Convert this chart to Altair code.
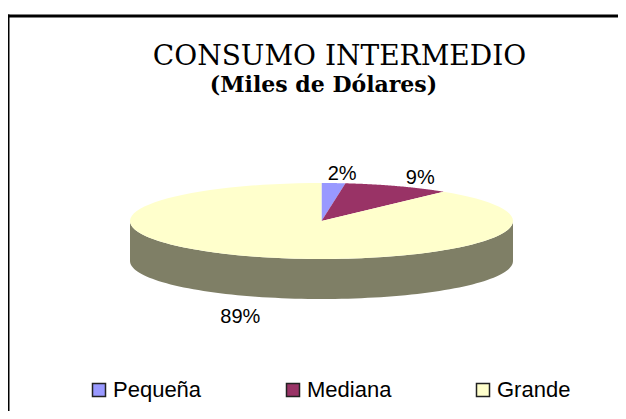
import altair as alt
import pandas as pd

categories = ["Pequeña", "Mediana", "Grande"]
values = [2, 9, 89]
top_colors = ["#9999FF", "#993366", "#FFFFCC"]
side_colors = ["#4C4C7F", "#4C1933", "#7F7F66"]
title_lines = ["CONSUMO INTERMEDIO", "(Miles de Dólares)"]

W, H = 610, 395
CX, CY, RX, RY, DEPTH = 313.5, 205, 191.5, 38, 40
N = 90

df = pd.DataFrame({"cat": categories, "val": values,
                   "idx": list(range(len(categories))), "side": side_colors})

xs = alt.X("px:Q", scale=alt.Scale(domain=[0, W], nice=False, zero=False), axis=None)
ys = alt.Y("py:Q", scale=alt.Scale(domain=[0, H], nice=False, zero=False, reverse=True), axis=None)

base = alt.Chart(df).transform_joinaggregate(total="sum(val)").transform_window(
    cum="sum(val)", sort=[alt.SortField("idx", order="ascending")], frame=[None, 0]
).transform_calculate(
    a0="2*PI*(datum.cum - datum.val)/datum.total",
    a1="2*PI*datum.cum/datum.total",
)

walls = base.transform_calculate(
    lo="max(datum.a0, PI/2)", hi="min(datum.a1, 3*PI/2)"
).transform_filter("datum.lo < datum.hi").transform_calculate(
    k=f"sequence(0, {2 * N + 2})"
).transform_flatten(["k"]).transform_calculate(
    t=f"datum.k <= {N} ? datum.lo + (datum.hi - datum.lo)*datum.k/{N} : datum.hi - (datum.hi - datum.lo)*(datum.k - {N + 1})/{N}",
    px=f"{CX} + {RX}*sin(datum.t)",
    py=f"{CY} - {RY}*cos(datum.t) + (datum.k > {N} ? {DEPTH} : 0)",
).mark_line(strokeWidth=0).encode(
    x=xs, y=ys, order=alt.Order("k:Q"),
    fill=alt.Fill("side:N", scale=None, legend=None),
    detail="cat:N",
)

tops = base.transform_calculate(
    k=f"sequence(0, {N + 3})"
).transform_flatten(["k"]).transform_calculate(
    t=f"datum.a0 + (datum.a1 - datum.a0)*clamp(datum.k - 1, 0, {N})/{N}",
    edge=f"datum.k >= 1 && datum.k <= {N + 1}",
    px=f"datum.edge ? {CX} + {RX}*sin(datum.t) : {CX}",
    py=f"datum.edge ? {CY} - {RY}*cos(datum.t) : {CY}",
).mark_line(strokeWidth=0).encode(
    x=xs, y=ys, order=alt.Order("k:Q"),
    fill=alt.Fill("cat:N", scale=alt.Scale(domain=categories, range=top_colors),
                  legend=alt.Legend(
                      title=None, orient="none", legendX=80, legendY=363,
                      direction="horizontal", symbolType="square", symbolSize=169,
                      symbolStrokeColor="#222222", symbolStrokeWidth=1.5,
                      labelFont="Liberation Sans", labelFontSize=22,
                      labelColor="black", columnPadding=80, labelOffset=3,
                  )),
)

labels = base.transform_calculate(
    mid="(datum.a0 + datum.a1)/2",
    px=f"{CX} + {RX}*1.22*sin(datum.mid) + (sin(datum.mid) >= 0 ? 6 : -2)",
    py=f"{CY} - {RY}*1.24*cos(datum.mid) + (cos(datum.mid) < 0 ? {DEPTH} + 12 : 0)",
    lab="round(100*datum.val/datum.total) + '%'",
).mark_text(font="Liberation Sans", fontSize=20, align="center",
            baseline="middle", color="black").encode(x=xs, y=ys, text="lab:N")

one = alt.Data(values=[{"a": 1}])
title1 = alt.Chart(one).mark_text(
    font="DejaVu Serif", fontSize=28, align="center", baseline="alphabetic", color="black"
).encode(x=alt.value(331.5), y=alt.value(49), text=alt.value(title_lines[0]))
title2 = alt.Chart(one).mark_text(
    font="DejaVu Serif", fontSize=22, fontWeight="bold", align="center",
    baseline="alphabetic", color="black"
).encode(x=alt.value(315.5), y=alt.value(76), text=alt.value(title_lines[1]))

border_left = alt.Chart(one).mark_rule(color="black", strokeWidth=3, strokeCap="square").encode(
    x=alt.value(0), y=alt.value(0), y2=alt.value(H))
border_top = alt.Chart(one).mark_rule(color="black", strokeWidth=3, strokeCap="square").encode(
    x=alt.value(0), x2=alt.value(W), y=alt.value(0))

chart = alt.layer(
    walls, tops, labels, title1, title2, border_left, border_top
).resolve_scale(fill="independent").properties(
    width=W, height=H,
    autosize=alt.AutoSizeParams(type="none"),
    padding={"left": 0, "top": 8, "right": 0, "bottom": 0},
).configure_view(stroke=None)

chart.save("out.html", embed_options={"renderer": "svg", "actions": False})
